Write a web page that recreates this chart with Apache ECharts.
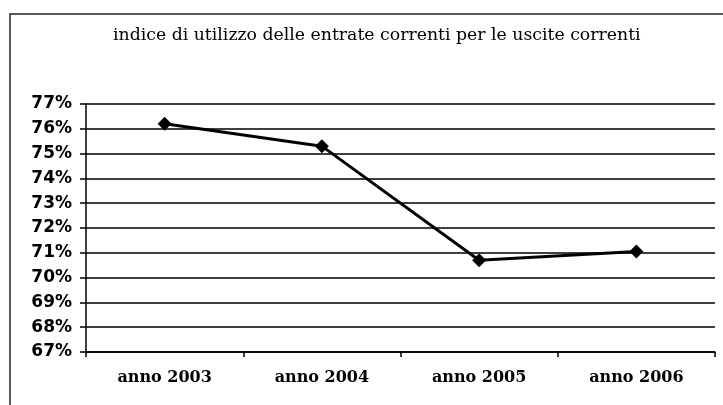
<!DOCTYPE html>
<html>
<head>
<meta charset="utf-8">
<script src="https://cdn.jsdelivr.net/npm/echarts@6/dist/echarts.min.js"></script>
<style>
  html, body { margin: 0; padding: 0; background: #fff; }
  #main { width: 723px; height: 405px; }
</style>
</head>
<body>
<div id="main"></div>
<script>
var anni = ['anno 2003', 'anno 2004', 'anno 2005', 'anno 2006'];
var indice = [76.2, 75.3, 70.7, 71.05];
var yMin = 67, yMax = 77, yStep = 1;

var myChart = echarts.init(document.getElementById('main'));
var option = {
    backgroundColor: '#fff',
    animation: false,
    title: {
        text: 'indice di utilizzo delle entrate correnti per le uscite correnti',
        left: 108,
        top: 22,
        textStyle: {
            fontFamily: 'DejaVu Serif',
            fontSize: 17.3,
            fontWeight: 'normal',
            color: '#000'
        }
    },
    // cornice esterna del grafico
    graphic: [{
        type: 'rect',
        shape: {x: 10, y: 14, width: 720, height: 420},
        style: {fill: 'none', stroke: '#222', lineWidth: 1.5}
    }],
    grid: {left: 86, right: 8, top: 104, bottom: 53},
    xAxis: {
        type: 'category',
        data: anni,
        boundaryGap: true,
        axisLine: {lineStyle: {color: '#000', width: 1.5}},
        axisTick: {show: true, length: 5, lineStyle: {color: '#000', width: 1.5}},
        axisLabel: {
            margin: 18,
            fontFamily: 'DejaVu Serif',
            fontSize: 16,
            fontWeight: 'bold',
            color: '#000'
        }
    },
    yAxis: {
        type: 'value',
        min: yMin,
        max: yMax,
        interval: yStep,
        axisLine: {show: true, lineStyle: {color: '#000', width: 1.5}},
        axisTick: {show: true, length: 6, lineStyle: {color: '#000', width: 1.5}},
        splitLine: {show: true, lineStyle: {color: '#000', width: 1.5}},
        axisLabel: {
            margin: 14,
            formatter: '{value}%',
            fontFamily: 'DejaVu Sans',
            fontSize: 17,
            fontWeight: 'bold',
            color: '#000'
        }
    },
    series: [{
        name: 'indice',
        type: 'line',
        data: indice,
        symbol: 'diamond',
        symbolSize: 14,
        lineStyle: {color: '#000', width: 3},
        itemStyle: {color: '#000'}
    }]
};
myChart.setOption(option);
</script>
</body>
</html>
